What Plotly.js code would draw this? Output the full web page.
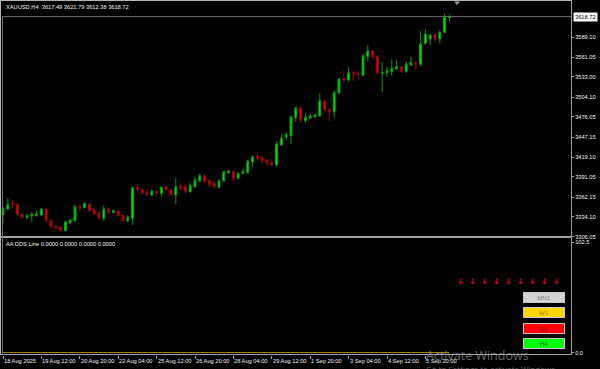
<!DOCTYPE html>
<html>
<head>
<meta charset="utf-8">
<script src="https://cdn.plot.ly/plotly-3.0.1.min.js"></script>
<style>html,body{margin:0;padding:0;background:#000;}#chart{width:600px;height:369px;}</style>
</head>
<body>
<div id="chart"></div>
<script>
// ---------- DATA ----------
const symbol = 'XAUUSD';
const timeframe = 'H4';
const open = [3336.63,3345.16,3354.12,3351.84,3338.05,3333.36,3335.20,3335.63,3336.63,3345.16,
3328.52,3320.56,3319.56,3314.30,3325.68,3328.52,3348.43,3347.01,3352.27,3344.73,
3339.89,3331.93,3345.16,3340.46,3342.32,3336.63,3328.11,3331.93,3375.45,3373.18,
3368.91,3365.07,3370.33,3367.49,3376.44,3373.18,3365.07,3377.87,3376.87,3369.76,
3376.87,3384.98,3392.52,3385.40,3381.71,3376.02,3384.98,3396.78,3398.21,3388.82,
3395.94,3397.36,3412.43,3420.54,3418.12,3414.85,3411.01,3407.74,3436.18,3447.56,
3449.41,3475.01,3488.80,3470.74,3474.15,3476.00,3477.42,3498.76,3486.95,3483.54,
3510.56,3531.04,3528.62,3539.58,3538.15,3535.31,3561.76,3570.29,3562.76,3538.15,
3539.01,3540.43,3544.27,3547.54,3540.43,3549.96,3553.80,3550.95,3580.82,3586.51,
3593.62,3586.94,3596.46,3617.49];
const high = [3348.00,3360.38,3357.96,3353.26,3338.76,3337.62,3341.32,3342.32,3347.01,3347.01,
3329.52,3322.40,3320.28,3328.11,3330.94,3350.85,3352.27,3354.12,3353.26,3347.58,
3342.74,3349.86,3347.01,3344.45,3343.74,3337.62,3336.63,3376.87,3380.72,3374.32,
3373.18,3372.17,3372.17,3376.87,3378.65,3374.32,3388.82,3381.71,3380.29,3382.57,
3391.10,3395.94,3394.51,3387.83,3387.41,3386.40,3399.64,3401.05,3399.64,3397.36,
3403.04,3414.85,3420.54,3425.23,3420.54,3416.27,3415.84,3440.87,3451.40,3454.24,
3477.85,3490.65,3490.65,3481.26,3480.27,3481.26,3509.71,3500.18,3489.80,3512.98,
3531.89,3541.42,3546.68,3541.42,3542.85,3565.60,3578.40,3571.29,3564.18,3554.65,
3547.54,3558.06,3557.07,3548.53,3554.65,3561.76,3555.65,3598.74,3599.74,3595.04,
3596.46,3598.74,3622.49,3621.79];
const low = [3325.68,3343.74,3346.16,3335.20,3331.93,3330.51,3327.10,3334.22,3335.63,3327.10,
3317.71,3316.72,3313.87,3313.87,3323.83,3327.10,3341.32,3346.16,3341.32,3336.63,
3330.51,3328.11,3339.05,3338.76,3334.50,3327.10,3327.10,3322.40,3369.76,3366.47,
3362.66,3363.65,3363.65,3362.66,3370.75,3364.07,3352.27,3370.75,3367.49,3368.34,
3375.45,3383.98,3382.57,3375.45,3374.61,3374.61,3383.98,3395.36,3384.98,3387.83,
3394.51,3394.94,3405.32,3414.85,3409.16,3407.74,3406.31,3405.32,3434.76,3443.29,
3437.60,3469.31,3467.47,3467.04,3472.73,3475.01,3476.43,3484.96,3470.31,3474.15,
3508.29,3524.78,3526.21,3527.20,3529.62,3534.31,3554.65,3559.49,3537.16,3511.13,
3533.32,3534.74,3542.85,3539.58,3539.01,3548.53,3543.84,3548.53,3578.40,3578.40,
3583.09,3580.82,3595.04,3612.38];
const close = [3346.16,3351.84,3351.84,3337.62,3333.36,3335.63,3337.62,3338.05,3345.16,3328.52,
3319.99,3318.55,3314.30,3327.10,3329.52,3348.43,3346.16,3353.26,3342.74,3338.05,
3331.93,3345.16,3339.89,3342.74,3335.63,3328.11,3333.36,3375.45,3373.18,3367.49,
3366.05,3370.75,3367.91,3376.02,3372.17,3365.07,3376.87,3374.61,3369.76,3378.30,
3386.40,3392.52,3383.98,3380.29,3376.02,3385.40,3398.21,3399.20,3388.82,3395.94,
3398.21,3413.43,3419.55,3417.26,3413.85,3410.15,3407.74,3437.60,3445.71,3451.40,
3476.43,3489.23,3471.31,3475.58,3477.42,3479.27,3499.18,3485.96,3483.54,3511.13,
3530.05,3528.62,3539.01,3537.16,3535.74,3562.76,3570.29,3560.91,3538.15,3539.56,
3541.85,3545.27,3547.54,3540.43,3551.38,3553.23,3550.95,3579.82,3594.05,3592.62,
3586.51,3596.46,3618.65,3618.72];
const priceTicks = [3306.05,3334.10,3362.15,3391.05,3419.10,3447.15,3476.05,3504.10,3533.00,3561.05,3589.10];
const timeLabels = ['18 Aug 2025','19 Aug 12:00','20 Aug 20:00','22 Aug 04:00','25 Aug 12:00','26 Aug 20:00',
'28 Aug 04:00','29 Aug 12:00','1 Sep 20:00','3 Sep 04:00','4 Sep 12:00','5 Sep 20:00'];
const timeLabelBars = [0,8,16,24,32,40,48,56,64,72,80,88];
const ddsName = 'AA DDS Line';
const ddsValues = [0,0,0,0];
const ddsLine = [0,0,0,0,0,0,0,0,0,0,0,0,0,0,0,0,0,0,0,0,0,0,0,0,0,0,0,0,0,0,0,0,0,0,0,0,0,0,0,0,0,0,0,0,0,0,0,0,
0,0,0,0,0,0,0,0,0,0,0,0,0,0,0,0,0,0,0,0,0,0,0,0,0,0,0,0,0,0,0,0,0,0,0,0,0,0,0,0,0,0,0,0,0,0];
const ddsScale = [0, 102.5];
const arrowSignals = ['down','down','down','down','down','down','down','down','down'];
const tfButtons = ['MN1','W1','D1','H4'];

// ---------- STYLE / LAYOUT ----------
const W = 600, H = 369, PW = 571, PH = 355;
const px = p => p / PW;            // pixel x -> paper
const py = p => (PH - p) / PH;     // pixel y -> paper
const bars = close.map((_, i) => i);
const last = close.length - 1;
const FONT = 'Liberation Sans, Arial, sans-serif';
const FS = 5.7;
const TXT = '#f0f0f0';
const BORDER = '#a0a0a0';
const btnStyle = {
  MN1: {bg: '#d4d4d4', fg: '#808080'},
  W1:  {bg: '#ffd700', fg: '#8a7000'},
  D1:  {bg: '#ff0000', fg: '#800000'},
  H4:  {bg: '#00ff00', fg: '#007000'}
};
const arrowGlyph = {down: '\u2193', up: '\u2191'};

const traces = [
  {
    type: 'candlestick', x: bars, open: open, high: high, low: low, close: close,
    xaxis: 'x', yaxis: 'y', whiskerwidth: 0,
    increasing: {line: {color: '#00a000', width: 1}, fillcolor: '#00ff00'},
    decreasing: {line: {color: '#a00000', width: 1}, fillcolor: '#ff0000'},
    hoverinfo: 'skip'
  },
  {
    type: 'scatter', mode: 'lines', x: bars, y: ddsLine, xaxis: 'x', yaxis: 'y2',
    line: {color: '#d4a800', width: 1.5}, hoverinfo: 'skip'
  }
];

const annotations = [];
const fmt2 = v => v.toFixed(2);
annotations.push({
  xref: 'paper', yref: 'paper', x: px(4), y: py(7), xanchor: 'left', yanchor: 'middle',
  text: symbol + ',' + timeframe + '  ' + [open[last], high[last], low[last], close[last]].map(fmt2).join(' '),
  showarrow: false, font: {family: FONT, size: FS, color: TXT}
});
annotations.push({
  xref: 'paper', yref: 'y', x: 1, y: close[last], xanchor: 'left', yanchor: 'middle', xshift: 2,
  text: fmt2(close[last]), showarrow: false, bgcolor: '#ffffff', borderpad: 1,
  font: {family: FONT, size: FS, color: '#000000'}
});
annotations.push({
  xref: 'paper', yref: 'paper', x: px(4), y: py(244), xanchor: 'left', yanchor: 'middle',
  text: ddsName + ' ' + ddsValues.map(v => v.toFixed(4)).join(' '),
  showarrow: false, font: {family: FONT, size: FS, color: TXT}
});
timeLabels.forEach((t, k) => {
  annotations.push({
    xref: 'x', yref: 'paper', x: timeLabelBars[k], y: 0, xanchor: 'left', yanchor: 'top',
    yshift: -1, xshift: -1, text: t, showarrow: false, font: {family: FONT, size: FS, color: TXT}
  });
});
arrowSignals.forEach((s, k) => {
  annotations.push({
    xref: 'paper', yref: 'paper', x: px(460 + 12 * k), y: py(281), xanchor: 'center', yanchor: 'middle',
    text: '<b>' + arrowGlyph[s] + '</b>', showarrow: false,
    font: {family: 'DejaVu Sans, sans-serif', size: 8, color: '#ff0000'}
  });
});
tfButtons.forEach((b, k) => {
  annotations.push({
    xref: 'paper', yref: 'paper', x: px(544), y: py(297.8 + 15.1 * k), xanchor: 'center', yanchor: 'middle',
    text: b, showarrow: false, width: 40, height: 9, borderpad: 0, borderwidth: 1,
    bordercolor: '#c8c8c8', bgcolor: btnStyle[b].bg,
    font: {family: FONT, size: FS + 0.5, color: btnStyle[b].fg}
  });
});
annotations.push({
  xref: 'paper', yref: 'paper', x: px(424), y: py(355), xanchor: 'left', yanchor: 'middle',
  text: 'Activate Windows', showarrow: false,
  font: {family: 'Open Sans, sans-serif', size: 12.5, color: 'rgba(190,190,190,0.55)'}
});
annotations.push({
  xref: 'paper', yref: 'paper', x: px(424), y: py(368), xanchor: 'left', yanchor: 'middle',
  text: 'Go to Settings to activate Windows.', showarrow: false,
  font: {family: 'Open Sans, sans-serif', size: 8, color: 'rgba(190,190,190,0.5)'}
});

const shapes = [
  {type: 'line', xref: 'paper', yref: 'y', x0: px(3), x1: 1, y0: close[last], y1: close[last],
   line: {color: '#6e6e6e', width: 1}},
  {type: 'line', xref: 'paper', yref: 'paper', x0: 0, x1: 1, y0: py(237), y1: py(237),
   line: {color: BORDER, width: 2}},
  {type: 'line', xref: 'paper', yref: 'paper', x0: 0, x1: 1, y0: py(354.5), y1: py(354.5),
   line: {color: BORDER, width: 1}},
  {type: 'line', xref: 'paper', yref: 'paper', x0: px(571.5), x1: px(571.5), y0: py(0), y1: py(355),
   line: {color: BORDER, width: 1}},
  {type: 'line', xref: 'paper', yref: 'paper', x0: px(0.5), x1: px(0.5), y0: py(0), y1: py(355),
   line: {color: '#b4b4b4', width: 1}},
  {type: 'line', xref: 'paper', yref: 'paper', x0: px(2.5), x1: px(2.5), y0: py(16), y1: py(355),
   line: {color: '#707070', width: 1}},
  {type: 'line', xref: 'paper', yref: 'paper', x0: 0, x1: px(571.5), y0: py(0.5), y1: py(0.5),
   line: {color: '#b4b4b4', width: 1}},
  {type: 'path', xref: 'paper', yref: 'paper',
   path: `M ${px(454)} ${py(1.5)} L ${px(460)} ${py(1.5)} L ${px(457)} ${py(5)} Z`,
   fillcolor: '#9a9a9a', line: {width: 0}}
];

const layout = {
  width: W, height: H,
  margin: {l: 0, r: W - PW, t: 0, b: H - PH},
  paper_bgcolor: '#000000', plot_bgcolor: '#000000',
  showlegend: false, dragmode: false,
  xaxis: {
    range: [-3 / 4.8, -3 / 4.8 + PW / 4.8], showgrid: false, zeroline: false,
    showticklabels: false, tickvals: timeLabelBars, ticks: 'outside', ticklen: 3,
    tickcolor: BORDER, tickwidth: 1, showline: false, rangeslider: {visible: false},
    anchor: 'free', position: 0, fixedrange: true
  },
  yaxis: {
    domain: [py(236.5), 1], range: [3306.05, 3306.05 + 236.5 * 1.4222],
    side: 'right', anchor: 'x', showgrid: false, zeroline: false, showline: false,
    tickvals: priceTicks, ticktext: priceTicks.map(fmt2), ticks: 'outside', ticklen: 2,
    tickcolor: BORDER, tickfont: {family: FONT, size: FS, color: TXT}, fixedrange: true
  },
  yaxis2: {
    domain: [py(352.7), py(242)], range: ddsScale,
    side: 'right', anchor: 'x', showgrid: false, zeroline: false, showline: false,
    tickvals: ddsScale, ticktext: ddsScale.map(v => v.toFixed(1)), ticks: 'outside', ticklen: 2,
    tickcolor: BORDER, tickfont: {family: FONT, size: FS, color: TXT}, fixedrange: true
  },
  boxgap: 0.45,
  annotations: annotations,
  shapes: shapes
};

Plotly.newPlot('chart', traces, layout, {staticPlot: true, displayModeBar: false});
</script>
</body>
</html>
